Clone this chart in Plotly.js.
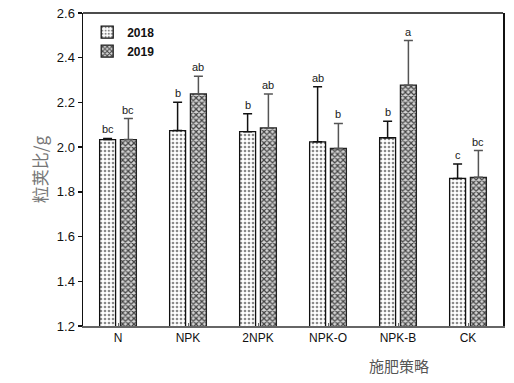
<!DOCTYPE html>
<html>
<head>
<meta charset="utf-8">
<script src="https://cdn.plot.ly/plotly-3.0.1.min.js"></script>
<style>html,body{margin:0;padding:0;background:#fff;}#chart{width:514px;height:383px;}</style>
</head>
<body>
<div id="chart"></div>
<script>
const categories = ['N', 'NPK', '2NPK', 'NPK-O', 'NPK-B', 'CK'];
const seriesNames = ['2018', '2019'];
const values2018 = [2.034, 2.074, 2.069, 2.024, 2.042, 1.860];
const errors2018 = [0.005, 0.127, 0.080, 0.246, 0.074, 0.065];
const values2019 = [2.034, 2.238, 2.086, 1.994, 2.277, 1.865];
const errors2019 = [0.094, 0.079, 0.152, 0.112, 0.200, 0.120];
const letters2018 = ['bc', 'b', 'b', 'ab', 'b', 'c'];
const letters2019 = ['bc', 'ab', 'ab', 'b', 'a', 'bc'];
const yTicks = [1.2, 1.4, 1.6, 1.8, 2.0, 2.2, 2.4, 2.6];

const bargap = 0.406;
const bargroupgap = 0.233;
const half = (1 - bargap) / 4;

const trace2018 = {
  type: 'bar', name: seriesNames[0], x: categories, y: values2018,
  marker: {
    color: '#ffffff',
    line: {color: '#111', width: 1.3},
    pattern: {shape: '.', fgcolor: '#8a8a8a', bgcolor: '#ffffff', size: 4, solidity: 0.35}
  },
  error_y: {type: 'data', array: errors2018, symmetric: false, arrayminus: errors2018.map(() => 0), color: '#111', thickness: 1.5, width: 4.5}
};
const trace2019 = {
  type: 'bar', name: seriesNames[1], x: categories, y: values2019,
  marker: {
    color: '#9a9a9a',
    line: {color: '#222', width: 1.3},
    pattern: {shape: 'x', fgcolor: '#444', bgcolor: '#d4d4d4', size: 4, solidity: 0.5}
  },
  error_y: {type: 'data', array: errors2019, symmetric: false, arrayminus: errors2019.map(() => 0), color: '#555', thickness: 1.5, width: 4.5}
};

const annotations = [];
categories.forEach((c, i) => {
  annotations.push({x: i - half, y: values2018[i] + errors2018[i], xref: 'x', yref: 'y', text: letters2018[i], showarrow: false, yanchor: 'bottom', yshift: 1, font: {family: 'Liberation Sans, Arial', size: 11, color: '#1a1a1a'}});
  annotations.push({x: i + half, y: values2019[i] + errors2019[i], xref: 'x', yref: 'y', text: letters2019[i], showarrow: false, yanchor: 'bottom', yshift: 1, font: {family: 'Liberation Sans, Arial', size: 11, color: '#1a1a1a'}});
});
annotations.push({
  x: (399 - 83) / (503 - 83), y: 0, xref: 'paper', yref: 'paper',
  xanchor: 'center', yanchor: 'middle', yshift: -39,
  text: '施肥策略', showarrow: false,
  font: {family: 'Noto Sans CJK SC', size: 15, color: '#555'}
});

const layout = {
  width: 514, height: 383,
  margin: {l: 83, r: 11, t: 13, b: 57},
  paper_bgcolor: '#fff', plot_bgcolor: '#fff',
  barmode: 'group', bargap: bargap, bargroupgap: bargroupgap,
  showlegend: true,
  legend: {x: 0.01, y: 0.985, xanchor: 'left', yanchor: 'top', bgcolor: 'rgba(0,0,0,0)', font: {family: 'Liberation Sans, Arial', size: 12, color: '#111', weight: 'bold'}, tracegroupgap: 0, itemwidth: 30},
  font: {family: 'Liberation Sans, Arial', color: '#111'},
  xaxis: {
    type: 'category', range: [-0.5, 5.5],
    showline: true, linecolor: '#666', linewidth: 1.5, mirror: false,
    ticks: 'inside', ticklen: 3, tickcolor: '#666', tickwidth: 1,
    showgrid: false, zeroline: false,
    tickfont: {family: 'Liberation Sans, Arial', size: 12, color: '#111'}
  },
  yaxis: {
    range: [1.2, 2.6], tickvals: yTicks, ticktext: yTicks.map(v => v.toFixed(1)),
    showline: true, linecolor: '#111', linewidth: 1.5, mirror: true,
    ticks: 'outside', ticklen: 4, tickcolor: '#111', tickwidth: 1.3,
    showgrid: false, zeroline: false,
    tickfont: {family: 'Liberation Sans, Arial', size: 13, color: '#111'},
    title: {text: '粒荚比/g', font: {family: 'Noto Sans CJK SC', size: 17, color: '#777'}, standoff: 5}
  },
  shapes: [{type: 'line', xref: 'paper', yref: 'paper', x0: 0, x1: 1, y0: 1, y1: 1, line: {color: '#111', width: 1.5}}],
  annotations: annotations
};

Plotly.newPlot('chart', [trace2018, trace2019], layout, {displayModeBar: false, staticPlot: true});
</script>
</body>
</html>
